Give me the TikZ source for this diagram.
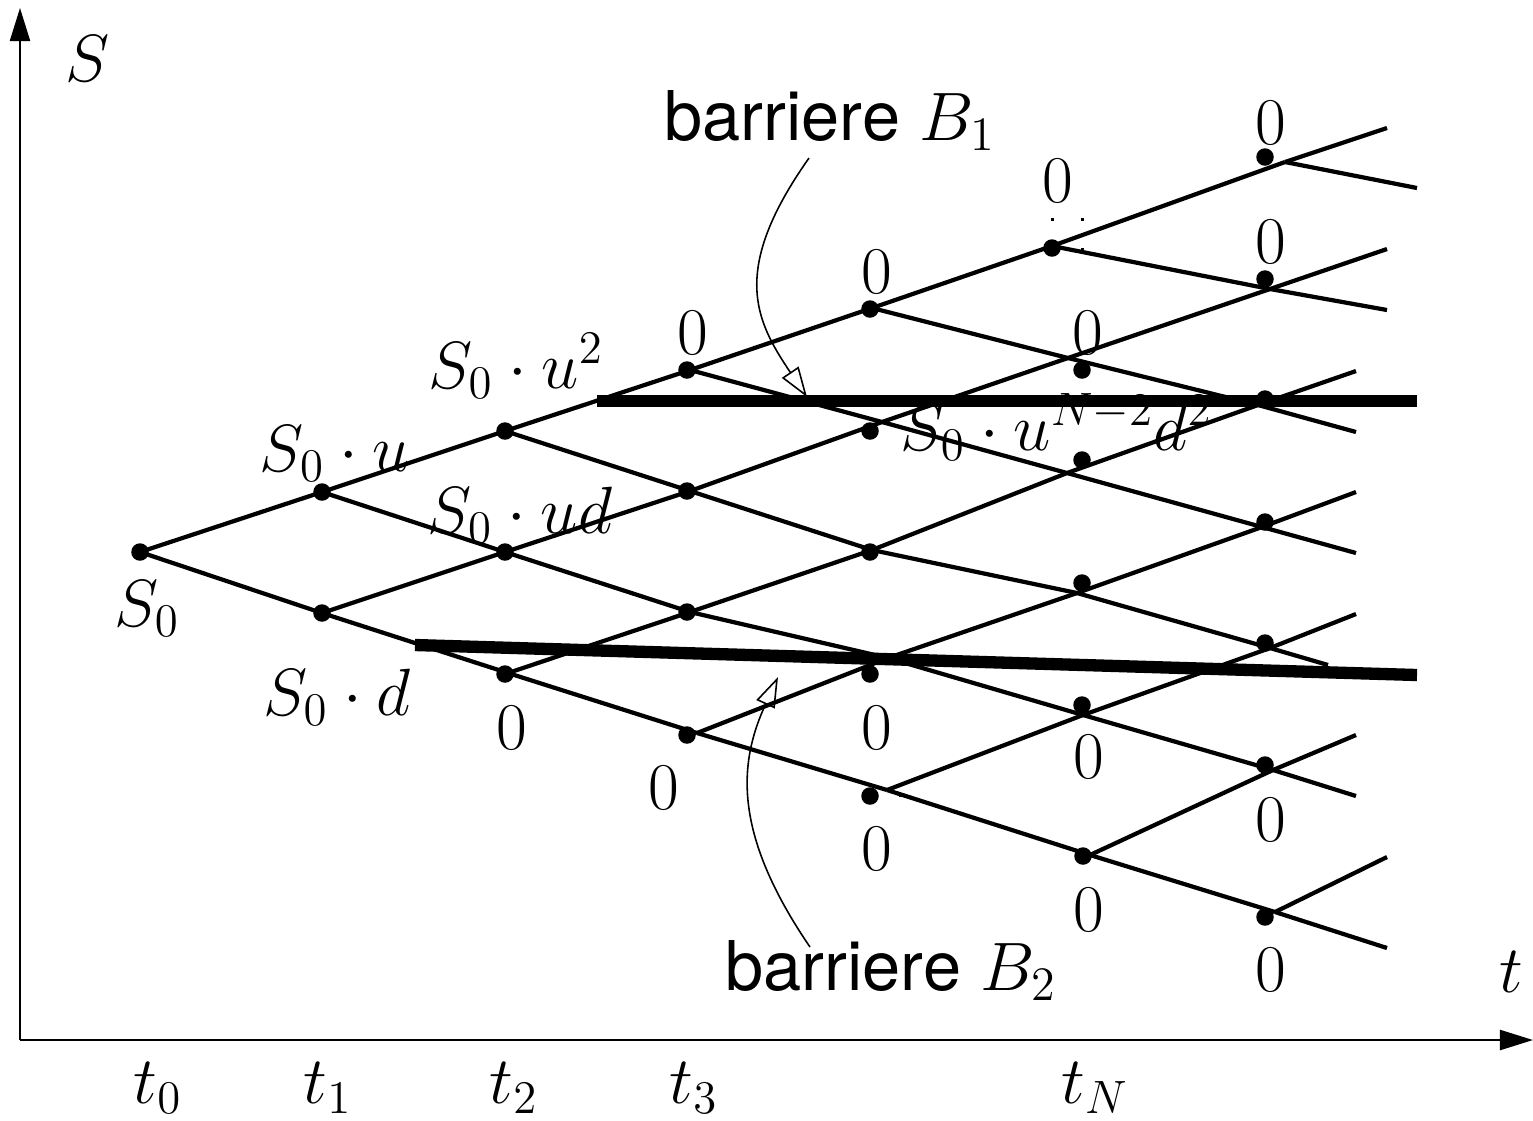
\RequirePackage{fix-cm}
\documentclass[tikz,border=0pt]{standalone}
\usepackage{fontspec}
\setsansfont{TeX Gyre Heros}
\usetikzlibrary{arrows.meta}
\begin{document}
\begin{tikzpicture}[x=0.01cm,y=-0.01cm,
  tree/.style={line width=1.2pt},
  axis/.style={line width=0.65pt,-{Triangle[length=0.33cm,width=0.2cm]}},
  barrier/.style={line width=3.5pt},
  pointer/.style={line width=0.45pt,-{Triangle[open,length=0.3cm,width=0.2cm]}},
  dot/.style={circle,fill,inner sep=0pt,minimum size=0.175cm},
  speck/.style={fill,inner sep=0pt,minimum size=0.03cm},
  lbl/.style={font=\fontsize{19}{23}\selectfont,inner sep=0pt},
  zero/.style={font=\fontsize{19}{23}\selectfont,inner sep=0pt},
  btxt/.style={font=\fontsize{19.5}{23}\selectfont\sffamily,inner sep=0pt}]
\useasboundingbox (0,0) rectangle (1533,1120);
% axes
\coordinate (O) at (20,1040);
\coordinate (Ytip) at (20,8);
\coordinate (Xtip) at (1533,1040);
\draw[axis] (O) -- (Ytip);
\draw[axis] (O) -- (Xtip);
% lattice crossings
\coordinate (c00) at (140,552);
\coordinate (c10) at (322,492); \coordinate (c11) at (322,613);
\coordinate (c20) at (505,431); \coordinate (c21) at (505,552); \coordinate (c22) at (508,673);
\coordinate (c30) at (690,370); \coordinate (c31) at (690,491); \coordinate (c32) at (690,612); \coordinate (c33) at (697,733);
\coordinate (c40) at (872,308); \coordinate (c41) at (882,422); \coordinate (c42) at (872,550); \coordinate (c43) at (888,658); \coordinate (c44) at (887,790);
\coordinate (c50) at (1052,246); \coordinate (c51) at (1068,358); \coordinate (c52) at (1067,473); \coordinate (c53) at (1077,593); \coordinate (c54) at (1083,715); \coordinate (c55) at (1090,855);
\coordinate (c60) at (1285,162); \coordinate (c61) at (1270,289); \coordinate (c62) at (1258,405); \coordinate (c63) at (1262,527); \coordinate (c64) at (1270,648); \coordinate (c65) at (1273,770); \coordinate (c66) at (1275,912);
% free ends
\coordinate (u0) at (1387,128); \coordinate (d0) at (1417,188);
\coordinate (u1) at (1387,249); \coordinate (d1) at (1387,310);
\coordinate (u2) at (1356,371); \coordinate (d2) at (1356,432);
\coordinate (u3) at (1356,492); \coordinate (d3) at (1356,553);
\coordinate (u4) at (1356,614); \coordinate (d4) at (1328,665);
\coordinate (u5) at (1356,735); \coordinate (d5) at (1356,796);
\coordinate (u6) at (1387,857); \coordinate (d6) at (1387,948);
% tree segments
\foreach \i in {0,...,5} {
  \pgfmathtruncatemacro\ii{\i+1}
  \foreach \j in {0,...,\i} {
    \pgfmathtruncatemacro\jj{\j+1}
    \draw[tree] (c\i\j) -- (c\ii\j);
    \draw[tree] (c\i\j) -- (c\ii\jj);
  }
}
\foreach \j in {0,...,6} {
  \draw[tree] (c6\j) -- (u\j);
  \draw[tree] (c6\j) -- (d\j);
}
% dots
\node[dot] (p00) at (140,552) {};
\node[dot] (p10) at (322,492) {}; \node[dot] (p11) at (322,613) {};
\node[dot] (p20) at (505,431) {}; \node[dot] (p21) at (505,552) {}; \node[dot] (p22) at (505,674) {};
\node[dot] (p30) at (687,370) {}; \node[dot] (p31) at (687,491) {}; \node[dot] (p32) at (687,612) {}; \node[dot] (p33) at (687,735) {};
\node[dot] (p40) at (870,309) {}; \node[dot] (p41) at (870,431) {}; \node[dot] (p42) at (870,552) {}; \node[dot] (p43) at (870,674) {}; \node[dot] (p44) at (870,796) {};
\node[dot] (p50) at (1052,248) {}; \node[dot] (p51) at (1082,370) {}; \node[dot] (p52) at (1082,460) {}; \node[dot] (p53) at (1082,583) {}; \node[dot] (p54) at (1082,705) {}; \node[dot] (p55) at (1083,856) {};
\node[dot] (p60) at (1265,157) {}; \node[dot] (p61) at (1265,279) {}; \node[dot] (p62) at (1265,399) {}; \node[dot] (p63) at (1265,522) {}; \node[dot] (p64) at (1265,643) {}; \node[dot] (p65) at (1265,765) {}; \node[dot] (p66) at (1265,917) {};
% specks
\node[speck] (s1) at (1052,219) {};
\node[speck] (s2) at (1082,219) {};
\node[speck] (s3) at (1082,249) {};
\node[speck] (s4) at (900,795) {};
% barriers
\coordinate (b1a) at (597,401); \coordinate (b1b) at (1417,401);
\coordinate (b2a) at (415,645); \coordinate (b2b) at (1417,675);
\draw[barrier] (b1a) -- (b1b);
\draw[barrier] (b2a) -- (b2b);
% pointers
\coordinate (a1s) at (809,158); \coordinate (a1e) at (807,397);
\coordinate (a2s) at (810,947); \coordinate (a2e) at (778,677);
\draw[pointer] (a1s) .. controls (730,270) and (755,320) .. (a1e);
\draw[pointer] (a2s) .. controls (730,830) and (740,760) .. (a2e);
% labels
\node[lbl,anchor=base] (Slab) at (88,81) {$S$};
\node[lbl,anchor=base] (tlab) at (1511,992) {$t$};
\node[lbl,anchor=base] (l0) at (147,626) {$S_0$};
\node[lbl,anchor=base] (lu) at (335,471) {$S_0\cdot u$};
\node[lbl,anchor=base] (ld) at (337,715) {$S_0\cdot d$};
\node[lbl,anchor=base] (luu) at (516,388) {$S_0\cdot u^2$};
\node[lbl,anchor=base] (lud) at (520,533) {$S_0\cdot ud$};
\node[lbl,anchor=base west] (lN) at (900,450) {$S_0\cdot u^{N-2}d^2$};
\node[lbl,anchor=base] (t0) at (158,1103) {$t_0$};
\node[lbl,anchor=base] (t1) at (328,1103) {$t_1$};
\node[lbl,anchor=base] (t2) at (514,1103) {$t_2$};
\node[lbl,anchor=base] (t3) at (694,1103) {$t_3$};
\node[lbl,anchor=base] (tN) at (1095,1103) {$t_N$};
\node[btxt,anchor=base] (B1) at (830,140) {barriere $B_1$};
\node[btxt,anchor=base] (B2) at (891,990) {barriere $B_2$};
% zeros
\node[zero] (z1) at (693,333) {0};
\node[zero] (z2) at (877,272) {0};
\node[zero] (z3) at (1058,181) {0};
\node[zero] (z4) at (1088,333) {0};
\node[zero] (z5) at (1271,123) {0};
\node[zero] (z6) at (1271,242) {0};
\node[zero] (z7) at (512,728) {0};
\node[zero] (z8) at (664,788) {0};
\node[zero] (z9) at (877,728) {0};
\node[zero] (z10) at (877,849) {0};
\node[zero] (z11) at (1089,757) {0};
\node[zero] (z12) at (1089,910) {0};
\node[zero] (z13) at (1271,820) {0};
\node[zero] (z14) at (1271,970) {0};
\end{tikzpicture}
\end{document}
